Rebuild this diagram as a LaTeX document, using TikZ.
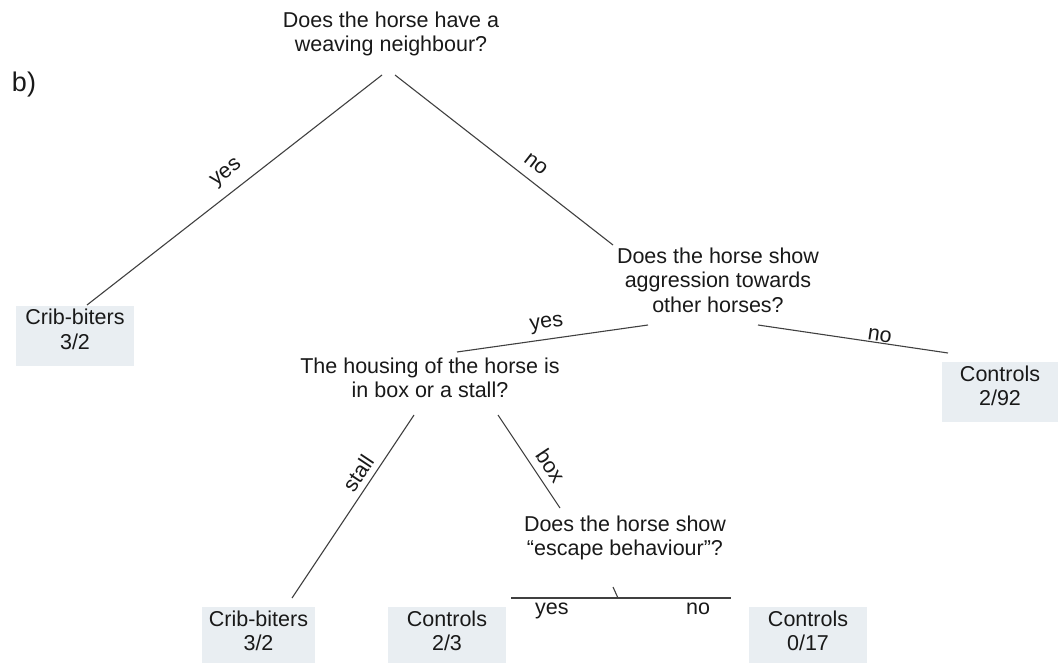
\documentclass[tikz,border=0pt]{standalone}
\usepackage{fontspec}
\setmainfont{Liberation Sans}
\definecolor{leafgray}{HTML}{E9EEF2}

\begin{document}
\begin{tikzpicture}[x=1bp,y=-1bp,line join=bevel,
  every node/.style={font=\fontsize{21.5bp}{24.5bp}\selectfont,text=black!90,inner sep=0pt},
  question/.style={align=center},
  leaf/.style={fill=leafgray,minimum width=118bp,minimum height=60bp,align=center,
    execute at end node={\rule[-13bp]{0pt}{0pt}}},
  branch/.style={draw=black!75,line width=1.1bp},
  answer/.style={sloped,above,inner sep=3bp}]
%%
\useasboundingbox (0,0) rectangle (1059,663);
\node (panel) at (24,85) [font=\fontsize{27bp}{30bp}\selectfont] {b)};
  \node (q1) at (391,34) [question] {Does the horse have a\\weaving neighbour?};
  \node (q2) at (718,280) [question] {Does the horse show\\aggression towards\\other horses?};
  \node (q3) at (430,378) [question] {The housing of the horse is\\in box or a stall?};
  \node (q4) at (625,538) [question] {Does the horse show\\“escape behaviour”?};
  \node (cb1) at (75,335.5) [leaf] {Crib-biters\\3/2};
  \node (ctl1) at (1000,392) [leaf,minimum width=116bp] {Controls\\2/92};
  \node (cb2) at (258.5,637) [leaf,minimum width=113bp] {Crib-biters\\3/2};
  \node (ctl2) at (447,637) [leaf] {Controls\\2/3};
  \node (ctl3) at (808,637) [leaf] {Controls\\0/17};
  \coordinate (split) at (618,598);
  \coordinate (esc-yes) at (511,598);
  \coordinate (esc-no) at (731,598);
  \draw [branch] ([shift={(-9,41)}]q1.center) -- node [answer,pos=0.49,inner sep=9bp] {yes} ([shift={(12,-30.5)}]cb1.center);
  \draw [branch] ([shift={(4,41)}]q1.center) -- node [answer,pos=0.6,inner sep=10bp] {no} ([shift={(-105,-35)}]q2.center);
  \draw [branch] ([shift={(-70,45)}]q2.center) -- node [answer,pos=0.52,inner sep=6bp] {yes} ([shift={(27,-26)}]q3.center);
  \draw [branch] ([shift={(40,45)}]q2.center) -- node [answer,pos=0.635,inner sep=1bp] {no} ([shift={(-52,-39)}]ctl1.center);
  \draw [branch] ([shift={(-16,37)}]q3.center) -- node [answer,pos=0.36,inner sep=6bp] {stall} ([shift={(33.5,-39)}]cb2.center);
  \draw [branch] ([shift={(68,37)}]q3.center) -- node [answer,pos=0.64,inner sep=7bp] {box} ([shift={(-65,-30)}]q4.center);
  \draw [branch] ([shift={(-12,49)}]q4.center) -- (split);
  \draw [branch] (esc-yes) -- node [below,inner sep=4bp,pos=0.186] {yes} node [below,inner sep=4bp,pos=0.85] {no} (esc-no);
%
\end{tikzpicture}
\end{document}
